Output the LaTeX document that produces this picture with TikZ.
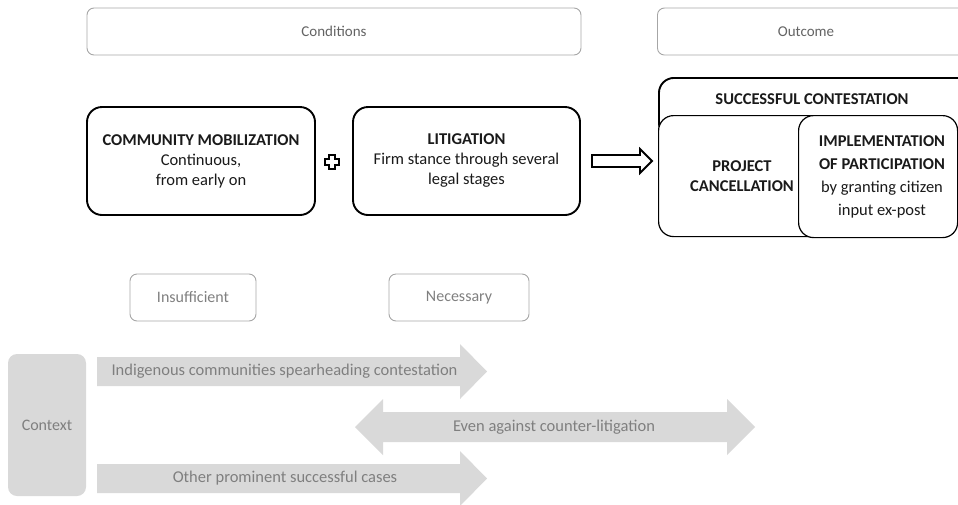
\documentclass[tikz,border=0pt]{standalone}
\usepackage{fontspec}
\setmainfont{Carlito}
\definecolor{boxgray}{HTML}{A6A6A6}
\definecolor{txtgray}{HTML}{7F7F7F}
\definecolor{hdrgray}{HTML}{636363}
\definecolor{fillgray}{HTML}{D9D9D9}
\definecolor{darktxt}{HTML}{1A1A1A}
\begin{document}
\begin{tikzpicture}[x=1pt,y=-1pt,
  hdrbox/.style={draw=boxgray, line width=0.9pt, rounded corners=7pt, inner sep=0pt,
    text=hdrgray, font=\fontsize{15}{18}\selectfont},
  lblbox/.style={draw=boxgray, line width=0.9pt, rounded corners=7pt, inner sep=0pt,
    text=txtgray, font=\fontsize{16}{19}\selectfont},
  mainbox/.style={draw=black, line width=1.9pt, rounded corners=15pt, inner sep=0pt,
    fill=white, text=darktxt, align=center, font=\fontsize{16.5}{20}\selectfont},
  plaintxt/.style={inner sep=0pt, text=darktxt, align=center, font=\fontsize{16.5}{20}\selectfont},
  grayarrow/.style={fill=fillgray, draw=none},
  arrowtxt/.style={inner sep=0pt, text=txtgray, font=\fontsize{16.5}{19}\selectfont},
  hollow/.style={draw=black, line width=1.8pt, fill=white, line join=miter}
]
\useasboundingbox (0,0) rectangle (958,504);
\clip (0,0) rectangle (958,504);

% header boxes
\node[hdrbox, minimum width=494pt, minimum height=47pt] (cond) at (334,31.5) {Conditions};
\node[hdrbox, minimum width=310pt, minimum height=47pt, anchor=west] (outc) at (657,31.5) {};
\node[inner sep=0pt, text=hdrgray, font=\fontsize{15}{18}\selectfont] (outctxt) at (806,31.5) {Outcome};

% condition boxes
\node[mainbox, minimum width=228pt, minimum height=108pt] (mob) at (201,161)
  {\textbf{COMMUNITY MOBILIZATION}\\Continuous,\\from early on};
\node[mainbox, minimum width=227pt, minimum height=108pt] (lit) at (466.5,161)
  {\textbf{LITIGATION}\\Firm stance through several\\legal stages};

% plus sign
\coordinate (plus) at (332,162);
\draw[hollow, line width=1.9pt] ([shift={(-2.8,-7)}]plus) -- ([shift={(2.8,-7)}]plus)
  -- ([shift={(2.8,-2.8)}]plus) -- ([shift={(7,-2.8)}]plus) -- ([shift={(7,2.8)}]plus)
  -- ([shift={(2.8,2.8)}]plus) -- ([shift={(2.8,7)}]plus) -- ([shift={(-2.8,7)}]plus)
  -- ([shift={(-2.8,2.8)}]plus) -- ([shift={(-7,2.8)}]plus) -- ([shift={(-7,-2.8)}]plus)
  -- ([shift={(-2.8,-2.8)}]plus) -- cycle;

% outcome boxes
\node[mainbox, minimum width=320pt, minimum height=60pt, anchor=north west] (succ) at (658,77) {};
\node[plaintxt] (succtxt) at (812,99.5) {\textbf{SUCCESSFUL CONTESTATION}};
\node[mainbox, line width=1.2pt, minimum width=167pt, minimum height=121pt, anchor=north west] (proj) at (658,115) {};
\node[plaintxt] (projtxt) at (742,176) {\textbf{PROJECT}\\\textbf{CANCELLATION}};
\node[mainbox, line width=1.2pt, minimum width=159pt, minimum height=122pt, anchor=north west] (impl) at (798,115) {};
\node[plaintxt, font=\fontsize{16.5}{23}\selectfont] (impltxt) at (882,177)
  {\textbf{IMPLEMENTATION}\\\textbf{OF PARTICIPATION}\\by granting citizen\\input ex-post};

% hollow arrow from conditions to outcome
\draw[hollow] (592,155) -- (640,155) -- (640,149) -- (652,161) -- (640,173) -- (640,167) -- (592,167) -- cycle;

% label boxes
\node[lblbox, minimum width=126pt, minimum height=47pt] (insuf) at (193,297.5) {Insufficient};
\node[lblbox, minimum width=140pt, minimum height=47pt] (nec) at (459,297.5) {Necessary};

% context
\node[fill=fillgray, rounded corners=9pt, minimum width=78pt, minimum height=142pt, inner sep=0pt,
  text=txtgray, font=\fontsize{16}{19}\selectfont] (ctx) at (47,425) {Context};

\fill[grayarrow] (97,357) -- (460,357) -- (460,344) -- (487,371.5) -- (460,399) -- (460,386) -- (97,386) -- cycle;
\node[arrowtxt] (a1) at (284.5,371.5) {Indigenous communities spearheading contestation};

\fill[grayarrow] (355,427) -- (383,399) -- (383,412) -- (727,412) -- (727,399) -- (755,427)
  -- (727,455) -- (727,442) -- (383,442) -- (383,455) -- cycle;
\node[arrowtxt] (a2) at (554,427) {Even against counter-litigation};

\fill[grayarrow] (97,464) -- (460,464) -- (460,451) -- (487,478.5) -- (460,506) -- (460,493) -- (97,493) -- cycle;
\node[arrowtxt] (a3) at (285,478.5) {Other prominent successful cases};
\end{tikzpicture}
\end{document}
